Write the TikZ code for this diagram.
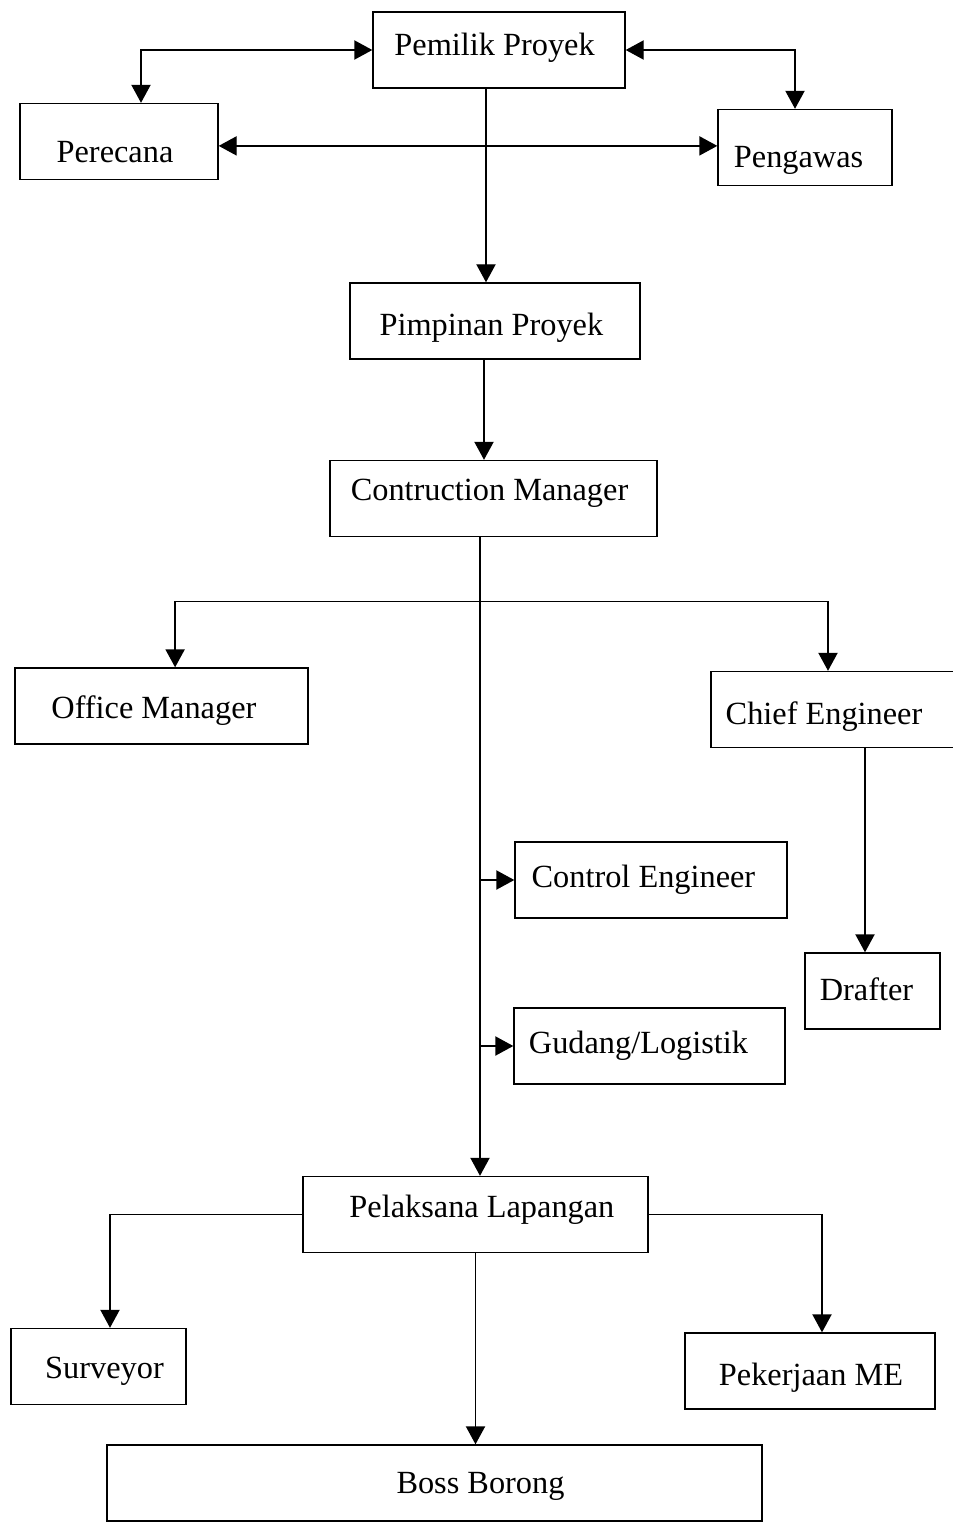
\documentclass[tikz,border=0pt]{standalone}
\usepackage{fontspec}
\setmainfont{Liberation Serif}
\usetikzlibrary{arrows.meta}

\tikzstyle{orgbox}=[draw,line width=1pt,minimum height=1.9cm,inner sep=0pt]
\tikzstyle{orientedarc}=[-{Triangle[length=4.5mm,width=4.8mm]},line width=1pt]
\tikzstyle{bothwayarc}=[{Triangle[length=4.5mm,width=4.8mm]}-{Triangle[length=4.5mm,width=4.8mm]},line width=1pt]
\tikzset{boxtext/.style n args={3}{label={[xshift=#1,yshift=#2,font=\fontsize{23}{27}\selectfont]center:#3}}}

\begin{document}
\begin{tikzpicture}

\useasboundingbox (0cm,0cm) rectangle (23.8cm,-38.05cm);

\node[orgbox,minimum width=6.3cm,boxtext={-0.11cm}{0.05cm}{Pemilik Proyek}] (PEMILIK) at (12.475cm,-1.25cm) {};
\node[orgbox,minimum width=4.95cm,boxtext={-0.1cm}{-0.275cm}{Perecana}] (PERECANA) at (2.975cm,-3.5375cm) {};
\node[orgbox,minimum width=4.35cm,boxtext={-0.16cm}{-0.325cm}{Pengawas}] (PENGAWAS) at (20.125cm,-3.6875cm) {};
\node[orgbox,minimum width=7.25cm,boxtext={-0.09cm}{-0.175cm}{Pimpinan Proyek}] (PIMPINAN) at (12.375cm,-8.025cm) {};
\node[orgbox,minimum width=8.175cm,boxtext={-0.1cm}{0.125cm}{Contruction Manager}] (CONTRUCTION) at (12.3375cm,-12.4625cm) {};
\node[orgbox,minimum width=7.325cm,boxtext={-0.19cm}{-0.125cm}{Office Manager}] (OFFICE) at (4.0375cm,-17.65cm) {};
\node[orgbox,minimum width=6.85cm,boxtext={-0.6cm}{-0.175cm}{Chief Engineer}] (CHIEF) at (21.2cm,-17.7375cm) {};
\node[orgbox,minimum width=6.8cm,boxtext={-0.19cm}{0cm}{Control Engineer}] (CONTROL) at (16.275cm,-22cm) {};
\node[orgbox,minimum width=3.375cm,boxtext={-0.15cm}{0.05cm}{Drafter}] (DRAFTER) at (21.8125cm,-24.775cm) {};
\node[orgbox,minimum width=6.775cm,boxtext={-0.275cm}{0cm}{Gudang/Logistik}] (GUDANG) at (16.2375cm,-26.15cm) {};
\node[orgbox,minimum width=8.625cm,boxtext={0.16cm}{0.125cm}{Pelaksana Lapangan}] (PELAKSANA) at (11.8875cm,-30.3625cm) {};
\node[orgbox,minimum width=4.375cm,boxtext={0.15cm}{-0.125cm}{Surveyor}] (SURVEYOR) at (2.4625cm,-34.1625cm) {};
\node[orgbox,minimum width=6.25cm,boxtext={0.025cm}{-0.175cm}{Pekerjaan ME}] (PEKERJAAN) at (20.25cm,-34.275cm) {};
\node[orgbox,minimum width=16.375cm,boxtext={1.15cm}{-0.075cm}{Boss Borong}] (BOSS) at (10.8625cm,-37.075cm) {};

\coordinate[shift={(0.55cm,0cm)}] (PERNORTH) at (PERECANA.north);
\coordinate[shift={(-0.25cm,0cm)}] (PENNORTH) at (PENGAWAS.north);
\coordinate[shift={(0cm,-0.11cm)}] (PEREAST) at (PERECANA.east);
\coordinate[shift={(-0.325cm,0cm)}] (PEMSOUTH) at (PEMILIK.south);
\coordinate[shift={(-0.275cm,0cm)}] (PIMSOUTH) at (PIMPINAN.south);
\coordinate[shift={(-0.3375cm,0cm)}] (TRUNK) at (CONTRUCTION.south);
\coordinate[shift={(0cm,-1.6cm)}] (BRANCH) at (TRUNK);
\coordinate[shift={(0.34cm,0cm)}] (OFFNORTH) at (OFFICE.north);
\coordinate[shift={(-0.5cm,0cm)}] (CHIEFNORTH) at (CHIEF.north);
\coordinate[shift={(0.425cm,0cm)}] (CHIEFSOUTH) at (CHIEF.south);
\coordinate[shift={(0.2875cm,0cm)}] (SURNORTH) at (SURVEYOR.north);
\coordinate[shift={(0.3cm,0cm)}] (PEKNORTH) at (PEKERJAAN.north);

\draw[bothwayarc] (PERNORTH) |- (PEMILIK.west);
\draw[bothwayarc] (PENNORTH) |- (PEMILIK.east);
\draw[bothwayarc] (PEREAST) -- (PEREAST -| PENGAWAS.west);
\draw[orientedarc] (PEMSOUTH) -- (PEMSOUTH |- PIMPINAN.north);
\draw[orientedarc] (PIMSOUTH) -- (PIMSOUTH |- CONTRUCTION.north);
\draw[orientedarc] (TRUNK) -- (TRUNK |- PELAKSANA.north);
\draw[orientedarc] (BRANCH) -| (OFFNORTH);
\draw[orientedarc] (BRANCH) -| (CHIEFNORTH);
\draw[orientedarc] (CONTROL.west -| TRUNK) -- (CONTROL.west);
\draw[orientedarc] (GUDANG.west -| TRUNK) -- (GUDANG.west);
\draw[orientedarc] (CHIEFSOUTH) -- (CHIEFSOUTH |- DRAFTER.north);
\draw[orientedarc] (PELAKSANA.west) -| (SURNORTH);
\draw[orientedarc] (PELAKSANA.east) -| (PEKNORTH);
\draw[orientedarc] (PELAKSANA.south) -- (PELAKSANA.south |- BOSS.north);

\end{tikzpicture}
\end{document}
